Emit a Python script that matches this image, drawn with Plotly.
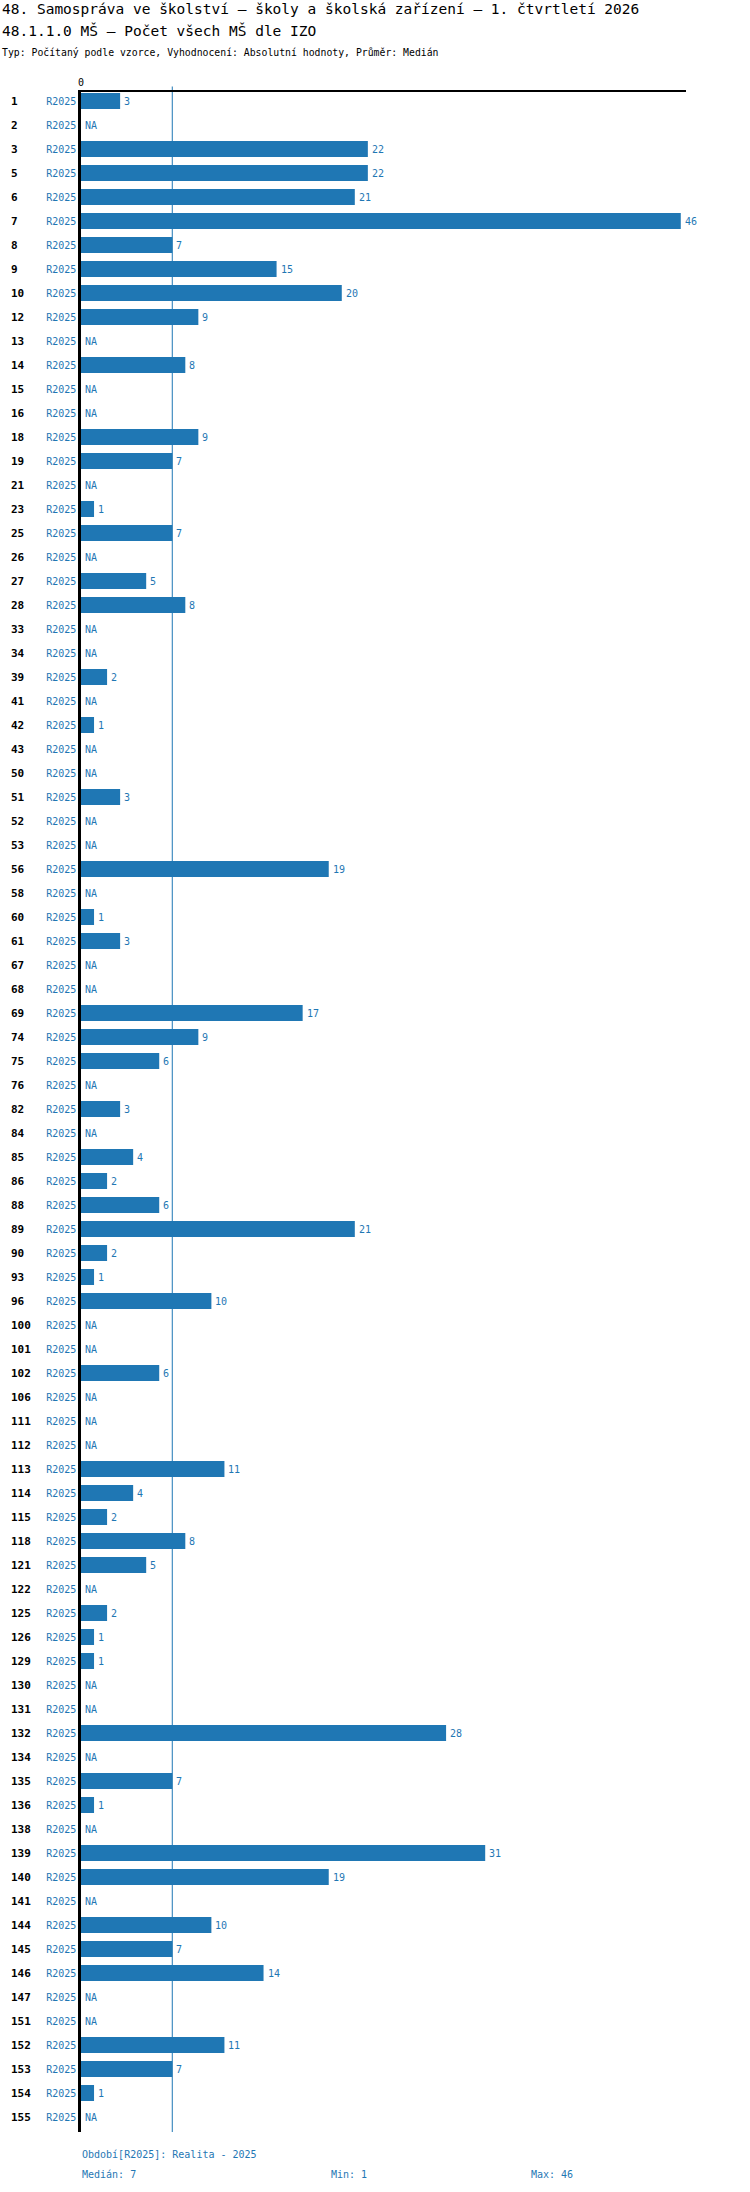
import plotly.graph_objects as go

# Data (None = NA)
codes = ["1", "2", "3", "5", "6", "7", "8", "9", "10", "12",
         "13", "14", "15", "16", "18", "19", "21", "23", "25", "26",
         "27", "28", "33", "34", "39", "41", "42", "43", "50", "51",
         "52", "53", "56", "58", "60", "61", "67", "68", "69", "74",
         "75", "76", "82", "84", "85", "86", "88", "89", "90", "93",
         "96", "100", "101", "102", "106", "111", "112", "113", "114", "115",
         "118", "121", "122", "125", "126", "129", "130", "131", "132", "134",
         "135", "136", "138", "139", "140", "141", "144", "145", "146", "147",
         "151", "152", "153", "154", "155"]
values = [3, None, 22, 22, 21, 46, 7, 15, 20, 9,
          None, 8, None, None, 9, 7, None, 1, 7, None,
          5, 8, None, None, 2, None, 1, None, None, 3,
          None, None, 19, None, 1, 3, None, None, 17, 9,
          6, None, 3, None, 4, 2, 6, 21, 2, 1,
          10, None, None, 6, None, None, None, 11, 4, 2,
          8, 5, None, 2, 1, 1, None, None, 28, None,
          7, 1, None, 31, 19, None, 10, 7, 14, None,
          None, 11, 7, 1, None]
period = "R2025"
median_val = 7
min_val = 1
max_val = 46

BLUE = "#1f77b4"
FONT = "DejaVu Sans Mono"

W, H = 750, 2192
ML, MR, MT, MB = 81, 64, 92, 60
plot_w = W - ML - MR
plot_h = H - MT - MB


def px_x(p):
    # pixel from left -> paper x
    return (p - ML) / plot_w


def px_y(p):
    # pixel from top -> paper y
    return (H - MB - p) / plot_h


fig = go.Figure()
fig.add_trace(go.Bar(
    y=codes, x=values, orientation="h", width=0.667,
    marker=dict(color=BLUE, line=dict(width=0)),
    hoverinfo="skip", showlegend=False,
))

# median line
fig.add_shape(type="line", xref="x", yref="paper",
              x0=median_val, x1=median_val, y0=0, y1=px_y(86.5),
              line=dict(color=BLUE, width=1), layer="below")

annotations = []
for i, c in enumerate(codes):
    v = values[i]
    # row number on the left
    annotations.append(dict(xref="paper", yref="y", x=px_x(9), y=i,
                            text="<b>" + c + "</b>", showarrow=False,
                            xanchor="left", yanchor="middle",
                            font=dict(family=FONT, size=11, color="black")))
    # value label after the bar
    annotations.append(dict(xref="x", yref="y", x=v if v is not None else 0, y=i,
                            text=str(v) if v is not None else "NA",
                            showarrow=False, xanchor="left", yanchor="middle",
                            xshift=2,
                            font=dict(family=FONT, size=10, color=BLUE)))

# header
annotations.append(dict(xref="paper", yref="paper", x=px_x(0), y=px_y(9),
                        text="48. Samospráva ve školství – školy a školská zařízení – 1. čtvrtletí 2026",
                        showarrow=False, xanchor="left", yanchor="middle",
                        font=dict(family=FONT, size=14.5, color="black")))
annotations.append(dict(xref="paper", yref="paper", x=px_x(0), y=px_y(30),
                        text="48.1.1.0 MŠ – Počet všech MŠ dle IZO",
                        showarrow=False, xanchor="left", yanchor="middle",
                        font=dict(family=FONT, size=14.5, color="black")))
annotations.append(dict(xref="paper", yref="paper", x=px_x(0), y=px_y(52),
                        text="Typ: Počítaný podle vzorce, Vyhodnocení: Absolutní hodnoty, Průměr: Medián",
                        showarrow=False, xanchor="left", yanchor="middle",
                        font=dict(family=FONT, size=9.8, color="black")))

# footer
annotations.append(dict(xref="paper", yref="paper", x=px_x(80), y=px_y(2154),
                        text="Období[" + period + "]: Realita - 2025",
                        showarrow=False, xanchor="left", yanchor="middle",
                        font=dict(family=FONT, size=10, color=BLUE)))
annotations.append(dict(xref="paper", yref="paper", x=px_x(80), y=px_y(2174),
                        text="Medián: " + str(median_val),
                        showarrow=False, xanchor="left", yanchor="middle",
                        font=dict(family=FONT, size=10, color=BLUE)))
annotations.append(dict(xref="paper", yref="paper", x=px_x(329), y=px_y(2174),
                        text="Min: " + str(min_val),
                        showarrow=False, xanchor="left", yanchor="middle",
                        font=dict(family=FONT, size=10, color=BLUE)))
annotations.append(dict(xref="paper", yref="paper", x=px_x(529), y=px_y(2174),
                        text="Max: " + str(max_val),
                        showarrow=False, xanchor="left", yanchor="middle",
                        font=dict(family=FONT, size=10, color=BLUE)))

fig.update_layout(
    width=W, height=H,
    margin=dict(l=ML, r=MR, t=MT, b=MB),
    paper_bgcolor="white", plot_bgcolor="white",
    font=dict(family=FONT, size=10, color="black"),
    annotations=annotations,
    xaxis=dict(range=[0, 46.4], side="top", showgrid=False, zeroline=False,
               showline=True, linecolor="black", linewidth=1.5,
               tickvals=[0], ticktext=["0"], ticks="",
               tickfont=dict(family=FONT, size=10, color="black"),
               fixedrange=True),
    yaxis=dict(type="category", categoryorder="array", categoryarray=codes,
               range=[84.625, -0.375], showgrid=False, zeroline=False,
               showline=True, linecolor="black", linewidth=2.5,
               tickvals=codes, ticktext=[period] * len(codes), ticks="",
               tickfont=dict(family=FONT, size=10, color=BLUE),
               fixedrange=True),
)

# drop the browser's default page margin so the chart sits at the top-left corner
fig.write_html("out.html", config={"displayModeBar": False},
               post_script="document.body.style.margin='0';")
